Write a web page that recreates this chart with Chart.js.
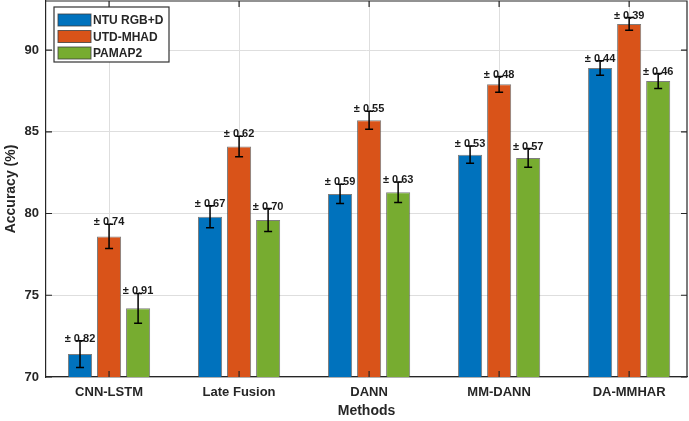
<!DOCTYPE html>
<html>
<head>
<meta charset="utf-8">
<script src="https://cdn.jsdelivr.net/npm/chart.js@4"></script>
<style>
html, body { margin: 0; padding: 0; background: #fff; }
#wrap { width: 689px; height: 421px; }
</style>
</head>
<body>
<div id="wrap"><canvas id="accChart"></canvas></div>
<script>
const methods = ["CNN-LSTM", "Late Fusion", "DANN", "MM-DANN", "DA-MMHAR"];
const ntuAcc = [71.4, 79.8, 81.2, 83.6, 88.9];
const utdAcc = [78.6, 84.1, 85.7, 87.9, 91.6];
const pamapAcc = [74.2, 79.6, 81.3, 83.4, 88.1];
const ntuStd = [0.82, 0.67, 0.59, 0.53, 0.44];
const utdStd = [0.74, 0.62, 0.55, 0.48, 0.39];
const pamapStd = [0.91, 0.70, 0.63, 0.57, 0.46];
const yTicks = [70, 75, 80, 85, 90];

const FONT = "'Liberation Sans', Arial, sans-serif";
const INK = "#262626";

// error bars and the "± x.xx" labels above them
const errorBars = {
    id: "errorBars",
    afterDatasetsDraw(chart) {
        const ctx = chart.ctx;
        const y = chart.scales.y;
        chart.data.datasets.forEach((ds, i) => {
            const meta = chart.getDatasetMeta(i);
            meta.data.forEach((bar, j) => {
                const v = ds.data[j].y, s = ds.std[j];
                const top = y.getPixelForValue(v + s);
                const bot = y.getPixelForValue(v - s);
                ctx.save();
                ctx.strokeStyle = "#000";
                ctx.lineWidth = 1.5;
                ctx.beginPath();
                ctx.moveTo(bar.x, top); ctx.lineTo(bar.x, bot);
                ctx.moveTo(bar.x - 4, top); ctx.lineTo(bar.x + 4, top);
                ctx.moveTo(bar.x - 4, bot); ctx.lineTo(bar.x + 4, bot);
                ctx.stroke();
                ctx.fillStyle = "#1a1a1a";
                ctx.font = "bold 11px " + FONT;
                ctx.textAlign = "center";
                ctx.textBaseline = "alphabetic";
                ctx.fillText("\u00b1 " + s.toFixed(2), bar.x, top + 1);
                ctx.restore();
            });
        });
    }
};

// matlab style box: top/right edges, inward ticks, legend inside the axes
const boxAndLegend = {
    id: "boxAndLegend",
    afterDraw(chart) {
        const ctx = chart.ctx;
        const a = chart.chartArea;
        const x = chart.scales.x, y = chart.scales.y;
        ctx.save();
        ctx.strokeStyle = INK;
        ctx.lineWidth = 1.2;
        ctx.beginPath();
        ctx.moveTo(a.left, a.top); ctx.lineTo(a.right, a.top); ctx.lineTo(a.right, a.bottom);
        methods.forEach((m, i) => {
            const px = x.getPixelForValue(i + 1);
            ctx.moveTo(px, a.bottom); ctx.lineTo(px, a.bottom - 6);
            ctx.moveTo(px, a.top); ctx.lineTo(px, a.top + 6);
        });
        yTicks.forEach(v => {
            const py = y.getPixelForValue(v);
            ctx.moveTo(a.left, py); ctx.lineTo(a.left + 6, py);
            ctx.moveTo(a.right, py); ctx.lineTo(a.right - 6, py);
        });
        ctx.stroke();

        const lx = a.left + 8, ly = a.top + 6, lw = 115, lh = 55;
        ctx.fillStyle = "#fff";
        ctx.fillRect(lx, ly, lw, lh);
        ctx.strokeStyle = "#333";
        ctx.lineWidth = 1.2;
        ctx.strokeRect(lx, ly, lw, lh);
        chart.data.datasets.forEach((ds, i) => {
            const cy = ly + 13 + i * 16.5;
            ctx.fillStyle = ds.backgroundColor;
            ctx.fillRect(lx + 4, cy - 6, 33, 12);
            ctx.strokeStyle = "rgba(60,60,60,0.8)";
            ctx.lineWidth = 1;
            ctx.strokeRect(lx + 4, cy - 6, 33, 12);
            ctx.fillStyle = INK;
            ctx.font = "bold 12px " + FONT;
            ctx.textAlign = "left";
            ctx.textBaseline = "middle";
            ctx.fillText(ds.label, lx + 39, cy + 1);
        });
        ctx.restore();
    }
};

function makeSet(label, data, std, color) {
    return {
        label: label,
        data: data.map((v, i) => ({ x: i + 1, y: v })),
        std: std,
        backgroundColor: color,
        borderColor: "rgba(70,70,70,0.7)",
        borderWidth: 1,
        categoryPercentage: 0.67,
        barPercentage: 0.83
    };
}

new Chart(document.getElementById("accChart"), {
    type: "bar",
    data: {
        datasets: [
            makeSet("NTU RGB+D", ntuAcc, ntuStd, "#0072BD"),
            makeSet("UTD-MHAD", utdAcc, utdStd, "#D95319"),
            makeSet("PAMAP2", pamapAcc, pamapStd, "#77AC30")
        ]
    },
    options: {
        responsive: true,
        maintainAspectRatio: false,
        animation: false,
        layout: { padding: { top: 1, right: 2, left: 0, bottom: 0 } },
        plugins: {
            legend: { display: false },
            tooltip: { enabled: false }
        },
        scales: {
            x: {
                type: "linear",
                min: 0.515,
                max: 5.445,
                offset: false,
                afterFit: s => { s.height = 44; s.paddingLeft = 0; s.paddingRight = 0; },
                afterBuildTicks: s => { s.ticks = methods.map((m, i) => ({ value: i + 1 })); },
                grid: { offset: false, color: "#dedede", drawTicks: false },
                border: { color: INK, width: 1.2 },
                ticks: {
                    color: INK, padding: 8,
                    font: { family: FONT, size: 13, weight: "bold" },
                    callback: v => methods[Math.round(v) - 1]
                },
                title: {
                    display: true, text: "Methods", color: INK,
                    padding: { top: 0, bottom: 1 },
                    font: { family: FONT, size: 14, weight: "bold" }
                }
            },
            y: {
                min: 70,
                max: 93,
                afterFit: s => { s.width = 46; s.paddingTop = 0; s.paddingBottom = 0; },
                afterBuildTicks: s => { s.ticks = yTicks.map(v => ({ value: v })); },
                grid: { color: "#dedede", drawTicks: false },
                border: { color: INK, width: 1.2 },
                ticks: { color: INK, padding: 7, font: { family: FONT, size: 13, weight: "bold" } },
                title: {
                    display: true, text: "Accuracy (%)", color: INK,
                    padding: { top: 3, bottom: 0 },
                    font: { family: FONT, size: 14, weight: "bold" }
                }
            }
        }
    },
    plugins: [errorBars, boxAndLegend]
});
</script>
</body>
</html>
